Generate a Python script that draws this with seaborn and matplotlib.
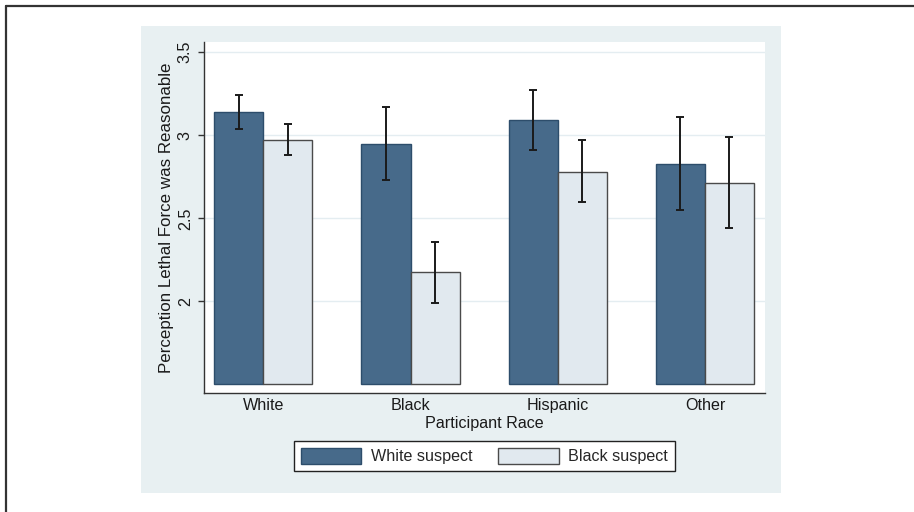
import matplotlib
matplotlib.use("Agg")
import matplotlib.pyplot as plt
from matplotlib.patches import Rectangle, Patch
from matplotlib.lines import Line2D
import numpy as np
import pandas as pd
import seaborn as sns

# ---- data ----
races = ["White", "Black", "Hispanic", "Other"]
suspects = ["White suspect", "Black suspect"]
white_suspect_mean = [3.14, 2.95, 3.09, 2.83]
white_suspect_lo = [3.04, 2.73, 2.91, 2.55]
white_suspect_hi = [3.24, 3.17, 3.27, 3.11]
black_suspect_mean = [2.97, 2.175, 2.78, 2.71]
black_suspect_lo = [2.88, 1.99, 2.60, 2.44]
black_suspect_hi = [3.07, 2.36, 2.97, 2.99]
y_ticks = [2, 2.5, 3, 3.5]
y_tick_labels = ["2", "2.5", "3", "3.5"]
BASE = 1.5

df = pd.DataFrame({
    "race": races * 2,
    "suspect": [suspects[0]] * 4 + [suspects[1]] * 4,
    "mean": white_suspect_mean + black_suspect_mean,
    "lo": white_suspect_lo + black_suspect_lo,
    "hi": white_suspect_hi + black_suspect_hi,
})

sns.set_style("white")
plt.rcParams["font.family"] = ["Liberation Sans", "DejaVu Sans"]

DARK = "#476a8a"
LIGHT = "#e1e9ef"
PANEL = "#e8f0f2"
FS = 11.6

W, H = 914, 512
fig = plt.figure(figsize=(W / 100, H / 100), dpi=100)
fig.patch.set_facecolor("white")

# Stata-like graph region panel
fig.patches.append(Rectangle((141 / W, 1 - 493 / H), 640 / W, 467 / H,
                             transform=fig.transFigure, facecolor=PANEL,
                             edgecolor="none", zorder=-5))
# outer border (top and left)
fig.lines.append(Line2D([5.5 / W, 1], [1 - 5.5 / H, 1 - 5.5 / H], transform=fig.transFigure,
                        color="#333333", lw=1.6))
fig.lines.append(Line2D([5.5 / W, 5.5 / W], [0, 1 - 5.5 / H], transform=fig.transFigure,
                        color="#333333", lw=1.6))

ax = fig.add_axes([204 / W, 1 - 393 / H, 561 / W, 351 / H])
ax.set_facecolor("white")

sns.barplot(data=df, x="race", y="mean", hue="suspect", order=races,
            hue_order=suspects, palette=[DARK, LIGHT], width=0.667,
            errorbar=None, ax=ax, legend=False, saturation=1, zorder=2)

edge_cols = ["#2d4d6b", "#4a4a4a"]
for cont, ec, s in zip(ax.containers, edge_cols, suspects):
    sub = df[df.suspect == s].set_index("race").loc[races]
    xs = []
    for bar in cont:
        h = bar.get_height()
        bar.set_y(BASE)
        bar.set_height(h - BASE)
        bar.set_edgecolor(ec)
        bar.set_linewidth(1.0)
        xs.append(bar.get_x() + bar.get_width() / 2)
    m = sub["mean"].values
    ax.errorbar(xs, m, yerr=[m - sub["lo"].values, sub["hi"].values - m],
                fmt="none", ecolor="#1a1a1a", elinewidth=1.4, capsize=3.2,
                capthick=1.4, zorder=3)

ax.set_xlim(-0.403, 3.408)
ax.set_ylim(1.448, 3.562)
ax.set_yticks(y_ticks)
ax.set_yticklabels(y_tick_labels, rotation=90, va="center", ha="right", fontsize=FS)
ax.yaxis.grid(True, color="#e4edf1", lw=1.0, zorder=0)
ax.set_axisbelow(True)

for side in ["top", "right"]:
    ax.spines[side].set_visible(False)
for side in ["left", "bottom"]:
    ax.spines[side].set_color("#333333")
    ax.spines[side].set_linewidth(1.0)

ax.tick_params(axis="y", length=4, width=1, color="#333333", pad=4, left=True)
ax.tick_params(axis="x", length=0, pad=3.5, labelsize=FS)
ax.set_xlabel("Participant Race", fontsize=FS, labelpad=2.5, color="#1a1a1a")
ax.set_ylabel("Perception Lethal Force was Reasonable", fontsize=12.2, labelpad=3,
              color="#1a1a1a")
for t in ax.get_xticklabels() + ax.get_yticklabels():
    t.set_color("#1a1a1a")

handles = [Patch(facecolor=DARK, edgecolor=edge_cols[0], lw=1.0),
           Patch(facecolor=LIGHT, edgecolor=edge_cols[1], lw=1.0)]
leg = fig.legend(handles, suspects, loc="center", ncol=2,
                 bbox_to_anchor=(484.4 / W, 1 - 455.9 / H), bbox_transform=fig.transFigure,
                 fontsize=FS, frameon=True, fancybox=False, edgecolor="#222222",
                 facecolor="white", framealpha=1, handlelength=3.75, handleheight=1.15,
                 handletextpad=0.6, columnspacing=1.6, borderpad=0.42, borderaxespad=0)
leg.get_frame().set_linewidth(1.0)

fig.savefig("out.png", dpi=100)
